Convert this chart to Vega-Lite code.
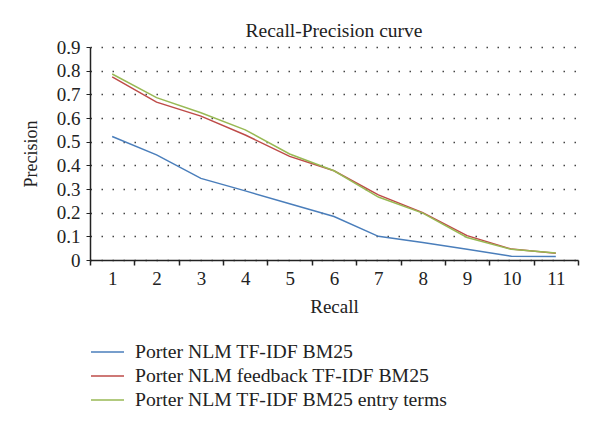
{
  "$schema": "https://vega.github.io/schema/vega-lite/v6.json",
  "autosize": "none",
  "width": 488,
  "height": 213,
  "padding": {"left": 90, "top": 47, "right": 22, "bottom": 174},
  "background": "white",
  "title": {"text": "Recall-Precision curve", "font": "Liberation Serif", "fontSize": 19.5, "fontWeight": "normal", "color": "#222", "offset": -3, "anchor": "middle"},
  "data": {"values": [
    {"recall": 1, "precision": 0.522, "series": "Porter NLM TF-IDF BM25"},
    {"recall": 2, "precision": 0.444, "series": "Porter NLM TF-IDF BM25"},
    {"recall": 3, "precision": 0.345, "series": "Porter NLM TF-IDF BM25"},
    {"recall": 4, "precision": 0.292, "series": "Porter NLM TF-IDF BM25"},
    {"recall": 5, "precision": 0.238, "series": "Porter NLM TF-IDF BM25"},
    {"recall": 6, "precision": 0.184, "series": "Porter NLM TF-IDF BM25"},
    {"recall": 7, "precision": 0.1, "series": "Porter NLM TF-IDF BM25"},
    {"recall": 8, "precision": 0.074, "series": "Porter NLM TF-IDF BM25"},
    {"recall": 9, "precision": 0.045, "series": "Porter NLM TF-IDF BM25"},
    {"recall": 10, "precision": 0.016, "series": "Porter NLM TF-IDF BM25"},
    {"recall": 11, "precision": 0.015, "series": "Porter NLM TF-IDF BM25"},
    {"recall": 1, "precision": 0.774, "series": "Porter NLM feedback TF-IDF BM25"},
    {"recall": 2, "precision": 0.667, "series": "Porter NLM feedback TF-IDF BM25"},
    {"recall": 3, "precision": 0.608, "series": "Porter NLM feedback TF-IDF BM25"},
    {"recall": 4, "precision": 0.528, "series": "Porter NLM feedback TF-IDF BM25"},
    {"recall": 5, "precision": 0.438, "series": "Porter NLM feedback TF-IDF BM25"},
    {"recall": 6, "precision": 0.377, "series": "Porter NLM feedback TF-IDF BM25"},
    {"recall": 7, "precision": 0.275, "series": "Porter NLM feedback TF-IDF BM25"},
    {"recall": 8, "precision": 0.2, "series": "Porter NLM feedback TF-IDF BM25"},
    {"recall": 9, "precision": 0.103, "series": "Porter NLM feedback TF-IDF BM25"},
    {"recall": 10, "precision": 0.046, "series": "Porter NLM feedback TF-IDF BM25"},
    {"recall": 11, "precision": 0.029, "series": "Porter NLM feedback TF-IDF BM25"},
    {"recall": 1, "precision": 0.786, "series": "Porter NLM TF-IDF BM25 entry terms"},
    {"recall": 2, "precision": 0.686, "series": "Porter NLM TF-IDF BM25 entry terms"},
    {"recall": 3, "precision": 0.622, "series": "Porter NLM TF-IDF BM25 entry terms"},
    {"recall": 4, "precision": 0.55, "series": "Porter NLM TF-IDF BM25 entry terms"},
    {"recall": 5, "precision": 0.448, "series": "Porter NLM TF-IDF BM25 entry terms"},
    {"recall": 6, "precision": 0.377, "series": "Porter NLM TF-IDF BM25 entry terms"},
    {"recall": 7, "precision": 0.266, "series": "Porter NLM TF-IDF BM25 entry terms"},
    {"recall": 8, "precision": 0.198, "series": "Porter NLM TF-IDF BM25 entry terms"},
    {"recall": 9, "precision": 0.095, "series": "Porter NLM TF-IDF BM25 entry terms"},
    {"recall": 10, "precision": 0.045, "series": "Porter NLM TF-IDF BM25 entry terms"},
    {"recall": 11, "precision": 0.03, "series": "Porter NLM TF-IDF BM25 entry terms"}
  ]},
  "encoding": {
    "y": {"field": "precision", "type": "quantitative",
      "scale": {"domain": [0, 0.9], "nice": false},
      "axis": {"values": [0, 0.1, 0.2, 0.3, 0.4, 0.5, 0.6, 0.7, 0.8, 0.9], "format": "~g", "title": "Precision", "titleFontSize": 18, "grid": true, "gridDash": [1.5, 9.5], "gridColor": "#444", "gridWidth": 1.5, "tickSize": 4, "tickColor": "#222", "domainColor": "#222", "domainWidth": 1.5, "labelPadding": 6, "titlePadding": 16}}
  },
  "layer": [
    {
      "mark": {"type": "line", "strokeWidth": 1.5},
      "encoding": {
        "x": {"field": "recall", "type": "quantitative",
          "scale": {"domain": [0.5, 11.5], "nice": false, "zero": false},
          "axis": {"orient": "bottom", "values": [1, 2, 3, 4, 5, 6, 7, 8, 9, 10, 11], "ticks": false, "domain": true, "domainColor": "#222", "domainWidth": 1.5, "grid": false, "title": "Recall", "labelPadding": 9, "titlePadding": 9}},
        "color": {"field": "series", "type": "nominal",
          "sort": ["Porter NLM TF-IDF BM25", "Porter NLM feedback TF-IDF BM25", "Porter NLM TF-IDF BM25 entry terms"],
          "scale": {"domain": ["Porter NLM TF-IDF BM25", "Porter NLM feedback TF-IDF BM25", "Porter NLM TF-IDF BM25 entry terms"], "range": ["#4a7ebb", "#be4b48", "#98b954"]},
          "legend": {"title": null, "orient": "none", "legendX": 0, "legendY": 293, "symbolType": "stroke", "symbolSize": 1089, "symbolStrokeWidth": 1.5, "clipHeight": 24, "rowPadding": 0, "labelOffset": 10, "labelFont": "Liberation Serif", "labelFontSize": 19.7, "labelColor": "#222", "labelLimit": 500}}
      }
    },
    {
      "mark": {"type": "line", "opacity": 0},
      "encoding": {
        "x": {"field": "recall", "type": "quantitative",
          "scale": {"domain": [0.5, 11.5], "nice": false, "zero": false},
          "axis": {"orient": "bottom", "values": [0.5, 1.5, 2.5, 3.5, 4.5, 5.5, 6.5, 7.5, 8.5, 9.5, 10.5, 11.5], "labels": false, "ticks": true, "tickSize": 5, "tickColor": "#222", "tickWidth": 1.5, "domain": false, "grid": false, "title": null}},
        "detail": {"field": "series"}
      }
    }
  ],
  "resolve": {"axis": {"x": "independent"}},
  "config": {
    "view": {"stroke": null},
    "axis": {"labelFont": "Liberation Serif", "labelFontSize": 19, "labelColor": "#222", "titleFont": "Liberation Serif", "titleFontSize": 19, "titleFontWeight": "normal", "titleColor": "#222"}
  }
}
